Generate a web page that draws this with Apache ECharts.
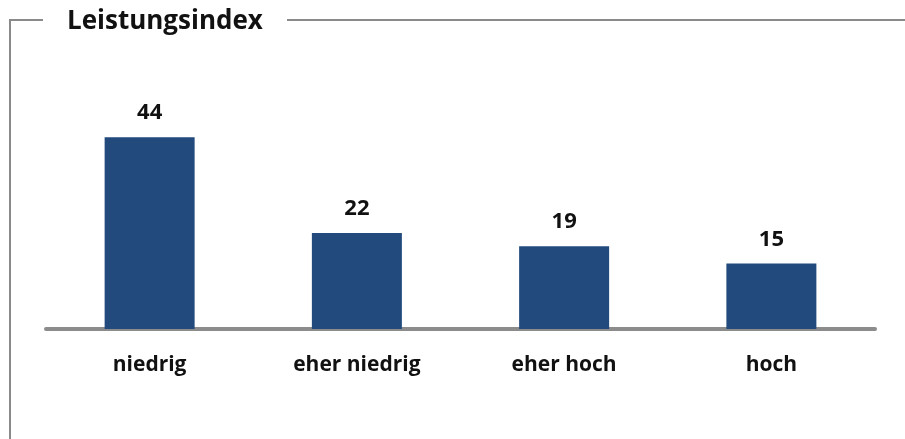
<!DOCTYPE html>
<html>
<head>
<meta charset="utf-8">
<script src="https://cdn.jsdelivr.net/npm/echarts@6/dist/echarts.min.js"></script>
<style>
	html, body { margin: 0; padding: 0; background: #fff; }
	#chart { width: 905px; height: 439px; }
</style>
</head>
<body>
<div id="chart"></div>
<script>
const titleText = "Leistungsindex";
const categories = ["niedrig", "eher niedrig", "eher hoch", "hoch"];
const values = [44, 22, 19, 15];

const frameColor = "#8a8a8a";
const font = "'Open Sans', 'Noto Sans', sans-serif";

const chart = echarts.init(document.getElementById("chart"));

chart.setOption({
	backgroundColor: "#ffffff",
	animation: false,
	title: {
		text: titleText,
		left: 62,
		top: 4,
		textStyle: {
			fontFamily: font,
			fontSize: 26,
			fontWeight: "bold",
			color: "#111"
		}
	},
	// frame around the chart, broken by the title
	graphic: [
		{
			type: "polyline",
			shape: { points: [[10, 439], [10, 20], [43, 20]] },
			style: { stroke: frameColor, lineWidth: 2, fill: null }
		},
		{
			type: "line",
			shape: { x1: 287, y1: 20, x2: 905, y2: 20 },
			style: { stroke: frameColor, lineWidth: 2 }
		}
	],
	grid: {
		left: 46,
		right: 30,
		top: 111,
		bottom: 110
	},
	xAxis: {
		type: "category",
		data: categories,
		axisTick: { show: false },
		axisLine: {
			lineStyle: { color: "#8c8c8c", width: 4 }
		},
		axisLabel: {
			margin: 26,
			fontFamily: font,
			fontSize: 21,
			fontWeight: "bold",
			color: "#111"
		}
	},
	yAxis: {
		type: "value",
		min: 0,
		max: 50,
		show: false,
		splitLine: { show: false }
	},
	series: [
		{
			type: "bar",
			data: values,
			barWidth: 90,
			itemStyle: { color: "#224a7d" },
			label: {
				show: true,
				position: "top",
				distance: 13,
				fontFamily: font,
				fontSize: 22,
				fontWeight: "bold",
				color: "#111"
			}
		}
	]
});
</script>
</body>
</html>
